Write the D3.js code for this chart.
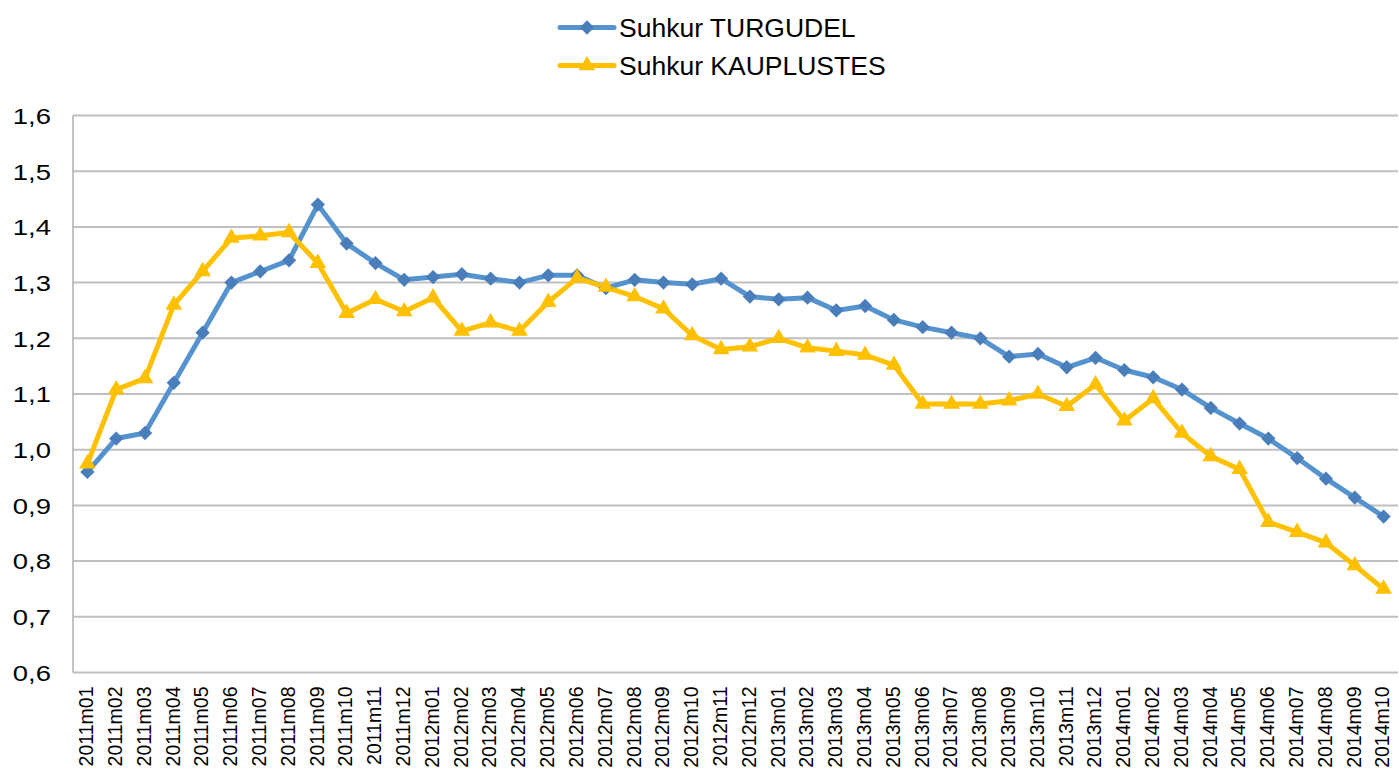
<!DOCTYPE html>
<html>
<head>
<meta charset="utf-8">
<script src="https://cdn.jsdelivr.net/npm/d3@7"></script>
<style>
	body { margin: 0; background: #fff; }
	text { font-family: "Liberation Sans", Arial, sans-serif; fill: #000; }
</style>
</head>
<body>
<div id="chart"></div>
<script>
//######################## Data ##############################

var months = ["2011m01","2011m02","2011m03","2011m04","2011m05","2011m06","2011m07","2011m08","2011m09","2011m10","2011m11","2011m12",
	"2012m01","2012m02","2012m03","2012m04","2012m05","2012m06","2012m07","2012m08","2012m09","2012m10","2012m11","2012m12",
	"2013m01","2013m02","2013m03","2013m04","2013m05","2013m06","2013m07","2013m08","2013m09","2013m10","2013m11","2013m12",
	"2014m01","2014m02","2014m03","2014m04","2014m05","2014m06","2014m07","2014m08","2014m09","2014m10"];

var turgudel = [0.96,1.02,1.03,1.12,1.21,1.30,1.32,1.34,1.44,1.37,1.335,1.305,
	1.31,1.315,1.307,1.30,1.313,1.313,1.29,1.305,1.30,1.297,1.307,1.275,
	1.27,1.273,1.25,1.258,1.233,1.22,1.21,1.20,1.167,1.172,1.148,1.165,
	1.143,1.13,1.108,1.075,1.047,1.02,0.985,0.948,0.914,0.88];

var kauplustes = [0.975,1.108,1.128,1.26,1.32,1.38,1.384,1.39,1.335,1.245,1.27,1.248,
	1.273,1.213,1.228,1.213,1.265,1.308,1.292,1.275,1.253,1.205,1.18,1.185,
	1.20,1.183,1.177,1.17,1.152,1.082,1.082,1.082,1.088,1.10,1.078,1.117,
	1.052,1.092,1.03,0.988,0.965,0.87,0.852,0.833,0.792,0.75];

var yTicks = [0.6,0.7,0.8,0.9,1.0,1.1,1.2,1.3,1.4,1.5,1.6];

var seriesNames = ["Suhkur TURGUDEL","Suhkur KAUPLUSTES"];

//######################## Chart ##############################

var width = 1399;
var height = 776;
var plotLeft = 73, plotRight = 1398, plotTop = 115.5, plotBottom = 672.5;

var svg = d3.select("#chart").append("svg")
	.attr("width",width)
	.attr("height",height);

var xscale = d3.scaleBand().domain(months).range([plotLeft,plotRight]);
var yscale = d3.scaleLinear().domain([0.6,1.6]).range([plotBottom,plotTop]);
var fmt = function(d) { return d3.format(".1f")(d).replace(".",","); };

//gridlines
svg.append("g").selectAll("line")
	.data(yTicks).enter().append("line")
		.attr("x1",plotLeft).attr("x2",plotRight)
		.attr("y1",function(d) { return yscale(d); })
		.attr("y2",function(d) { return yscale(d); })
		.attr("stroke","#c0c0c0")
		.attr("stroke-width",2);

//left axis line
svg.append("line")
	.attr("x1",plotLeft).attr("x2",plotLeft)
	.attr("y1",plotTop).attr("y2",plotBottom)
	.attr("stroke","#b0b0b0").attr("stroke-width",1.5);

//y labels are a bit wider in the original, stretch them horizontally
var yStretch = 1.22;
var yaxis = d3.axisLeft(yscale).tickValues(yTicks).tickFormat(fmt).tickSize(0);
var gy = svg.append("g").attr("transform","translate("+plotLeft+",0)").call(yaxis);
gy.select(".domain").remove();
gy.selectAll("text")
	.style("font-size","22.5px")
	.attr("x",-22/yStretch)
	.attr("dy","0.35em")
	.attr("transform","scale("+yStretch+",1)");

var xaxis = d3.axisBottom(xscale).tickSize(0).tickPadding(0);
var gx = svg.append("g").attr("transform","translate(0,"+plotBottom+")").call(xaxis);
gx.select(".domain").remove();
gx.selectAll("text")
	.style("font-size","19.5px")
	.attr("text-anchor","end")
	.attr("transform","rotate(-90)")
	.attr("x",-14)
	.attr("y",-1)
	.attr("dy","0.35em");

//lines
var line = d3.line()
	.x(function(d,i) { return xscale(months[i]) + xscale.bandwidth()/2; })
	.y(function(d) { return yscale(d); });

var blueLine = "#5593cf", blueMark = "#4a7ebb", yellow = "#ffc000";

svg.append("path").datum(turgudel)
	.attr("d",line).attr("fill","none")
	.attr("stroke",blueLine).attr("stroke-width",5).attr("stroke-linejoin","round");
svg.append("path").datum(kauplustes)
	.attr("d",line).attr("fill","none")
	.attr("stroke",yellow).attr("stroke-width",5).attr("stroke-linejoin","round");

var diamond = d3.symbol().type(d3.symbolDiamond2).size(130);
var triangle = d3.symbol().type(d3.symbolTriangle).size(120);

svg.append("g").selectAll("path")
	.data(turgudel).enter().append("path")
		.attr("d",diamond)
		.attr("fill",blueMark)
		.attr("transform",function(d,i) { return "translate("+(xscale(months[i]) + xscale.bandwidth()/2)+","+yscale(d)+")"; });

svg.append("g").selectAll("path")
	.data(kauplustes).enter().append("path")
		.attr("d",triangle)
		.attr("fill",yellow)
		.attr("transform",function(d,i) { return "translate("+(xscale(months[i]) + xscale.bandwidth()/2)+","+yscale(d)+")"; });

//legend
var legend = svg.append("g");
var legY = [27.5,65.5];
var legColors = [blueLine,yellow];
var legMarks = [diamond,triangle];
var legMarkColors = [blueMark,yellow];
seriesNames.forEach(function(name,i) {
	legend.append("line")
		.attr("x1",560).attr("x2",614)
		.attr("y1",legY[i]).attr("y2",legY[i])
		.attr("stroke",legColors[i]).attr("stroke-width",5).attr("stroke-linecap","round");
	legend.append("path")
		.attr("d",legMarks[i])
		.attr("fill",legMarkColors[i])
		.attr("transform","translate(587,"+legY[i]+")");
	legend.append("text")
		.attr("x",619).attr("y",legY[i])
		.attr("dy","0.35em")
		.style("font-size","26.5px")
		.text(name);
});
</script>
</body>
</html>
